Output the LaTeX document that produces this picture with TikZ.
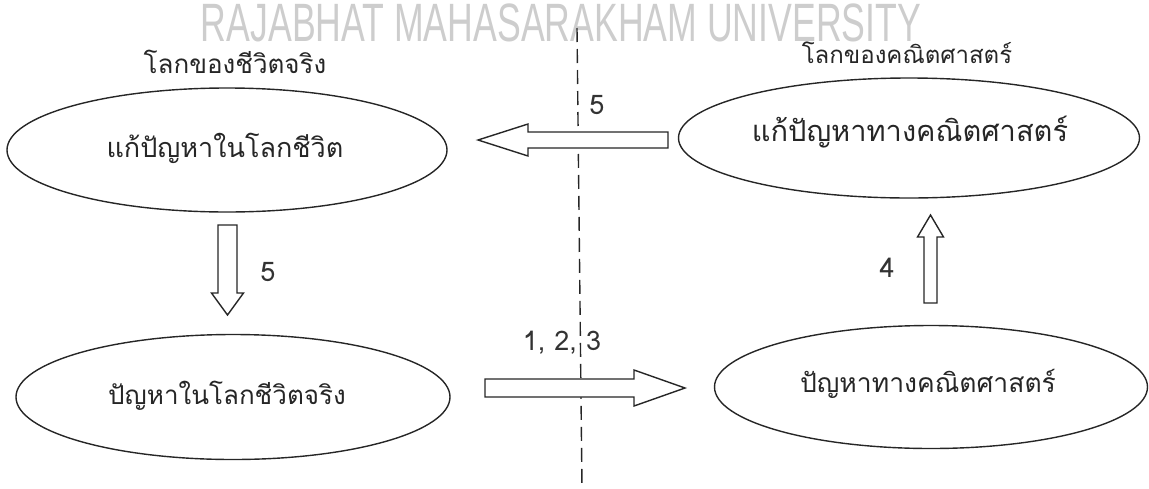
\documentclass[tikz,border=0pt]{standalone}
\usepackage{fontspec}
\usetikzlibrary{shapes.geometric,calc}
\newfontfamily\thai[Script=Thai]{Loma}
\newfontfamily\wmfont{Liberation Sans}
\definecolor{wmgray}{RGB}{205,205,205}
\tikzset{
  bubble/.style={ellipse, draw=black!85, line width=1.4pt, inner sep=0pt},
  btext/.style={anchor=base, inner sep=0pt, text=black!85, font=\thai\fontsize{#1}{#1}\selectfont},
  blk/.style={draw=black!85, line width=1.4pt, fill=white, line join=miter},
  lbl/.style={font=\thai\fontsize{27}{30}\selectfont, text=black!80, inner sep=0pt},
  divider/.style={draw=black!85, line width=1.4pt, dash pattern=on 14pt off 7pt},
}
\begin{document}
\begin{tikzpicture}[x=1pt,y=-1pt]
\useasboundingbox (0,0) rectangle (1149,488);
% watermark
\node[anchor=base, inner sep=0pt, text depth=0pt, text=wmgray, font=\wmfont\fontsize{54}{58}\selectfont, xscale=0.66, transform shape] (wm) at (561,41) {RAJABHAT MAHASARAKHAM UNIVERSITY};
% divider
\coordinate (dtop) at (577,28);
\coordinate (dbot) at (582,488);
\draw[divider] (dtop) -- (dbot);
% world titles
\node[btext=26] (tl) at (235,73) {โลกของชีวิตจริง};
\node[btext=24] (tr) at (907,63) {โลกของคณิตศาสตร์};
% ellipses
\node[bubble, minimum width=440pt, minimum height=124pt] (e1) at (227,150) {};
\node[bubble, minimum width=461pt, minimum height=120pt] (e2) at (909,138) {};
\node[bubble, minimum width=434pt, minimum height=125pt] (e3) at (233,397) {};
\node[bubble, minimum width=433pt, minimum height=123pt] (e4) at (931,387) {};
\node[btext=27] (t1) at (225,157) {แก้ปัญหาในโลกชีวิต};
\node[btext=29] (t2) at (910,141) {แก้ปัญหาทางคณิตศาสตร์};
\node[btext=26] (t3) at (227,404) {ปัญหาในโลกชีวิตจริง};
\node[btext=26.5] (t4) at (928,392) {ปัญหาทางคณิตศาสตร์};
% arrow anchors
\coordinate (la) at (668,140);  \coordinate (lb) at (478,140);
\coordinate (da) at (227.5,225); \coordinate (db) at (227.5,315);
\coordinate (ua) at (930.5,303); \coordinate (ub) at (930.5,215);
\coordinate (ra) at (485,388);  \coordinate (rb) at (685,388);
% left arrow (5, top)
\draw[blk] ($(la)+(0,-8)$) -- ($(lb)+(50,-8)$) -- ($(lb)+(50,-16)$) -- (lb) -- ($(lb)+(50,16)$) -- ($(lb)+(50,8)$) -- ($(la)+(0,8)$) -- cycle;
% down arrow (5)
\draw[blk] ($(da)+(-9.5,0)$) -- ($(db)+(-9.5,-22)$) -- ($(db)+(-16,-22)$) -- (db) -- ($(db)+(16,-22)$) -- ($(db)+(9.5,-22)$) -- ($(da)+(9.5,0)$) -- cycle;
% up arrow (4)
\draw[blk] ($(ua)+(-6.5,0)$) -- ($(ub)+(-6.5,22)$) -- ($(ub)+(-13,22)$) -- (ub) -- ($(ub)+(13,22)$) -- ($(ub)+(6.5,22)$) -- ($(ua)+(6.5,0)$) -- cycle;
% right arrow (1,2,3)
\draw[blk] ($(ra)+(0,-9)$) -- ($(rb)+(-51,-9)$) -- ($(rb)+(-51,-18)$) -- (rb) -- ($(rb)+(-51,18)$) -- ($(rb)+(-51,9)$) -- ($(ra)+(0,9)$) -- cycle;
% labels
\node[lbl] (n5a) at (597,105) {5};
\node[lbl] (n5b) at (268,272) {5};
\node[lbl] (n4) at (887,268) {4};
\node[lbl] (n123) at (562,343) {1, 2, 3};
\end{tikzpicture}
\end{document}
